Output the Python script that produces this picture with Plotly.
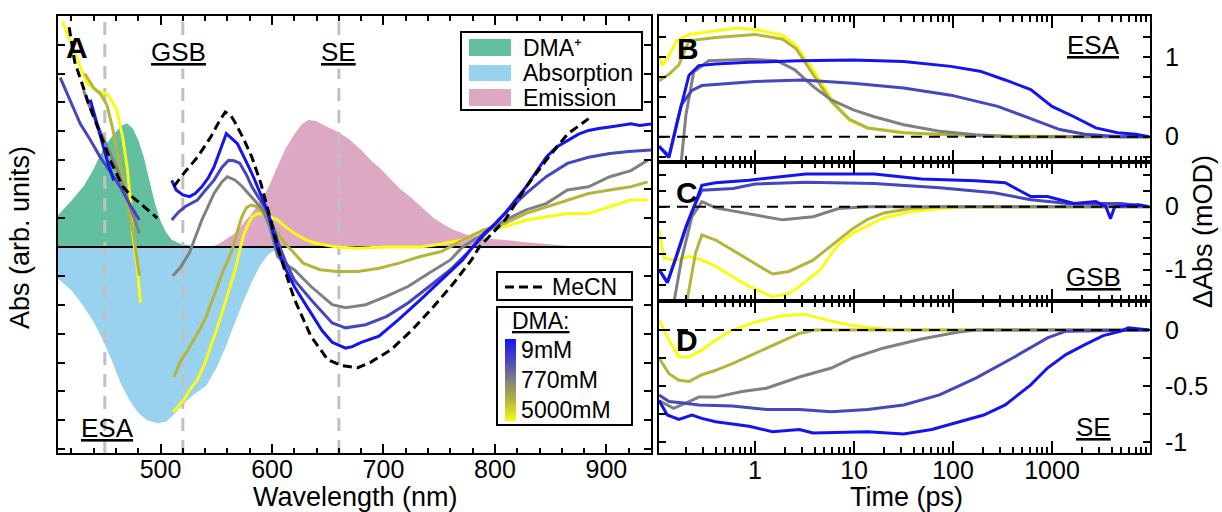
import plotly.graph_objects as go

W, H = 1222, 512

# ---------------- Panel A : steady-state + TA spectra ----------------
dma_cation_wl = [408, 420, 431, 440, 446, 452, 458, 465, 470, 475, 480, 485, 490, 495, 500, 505, 510, 518, 530]
dma_cation_abs = [1.1, 1.6, 2.1, 2.7, 3.2, 3.6, 3.9, 4.2, 4.28, 4.1, 3.7, 3.1, 2.3, 1.5, 0.9, 0.5, 0.25, 0.1, 0.02]

absorption_wl = [408, 420, 430, 440, 448, 456, 464, 472, 480, 488, 497, 505, 512, 520, 530, 541, 550, 558, 565,
                 573, 582, 590, 597, 604, 612]
absorption_abs = [-1.1, -1.5, -2.0, -2.6, -3.2, -3.9, -4.7, -5.3, -5.75, -6.0, -6.1, -6.05, -5.8, -5.45, -5.1, -4.8,
                  -4.2, -3.5, -2.8, -2.0, -1.2, -0.6, -0.25, -0.07, 0.0]

emission_wl = [545, 552, 560, 568, 575, 582, 590, 597, 605, 612, 620, 627, 633, 640, 647, 655, 660, 670, 680, 690,
               696, 705, 715, 725, 734, 745, 755, 763, 775, 790, 809, 825, 846, 860, 875]
emission_abs = [0, 0.1, 0.3, 0.5, 0.85, 1.17, 1.6, 2.07, 2.8, 3.4, 3.9, 4.25, 4.4, 4.35, 4.2, 4.05, 3.97, 3.7, 3.35,
                2.95, 2.76, 2.4, 2.0, 1.7, 1.38, 1.0, 0.75, 0.59, 0.42, 0.3, 0.24, 0.17, 0.1, 0.05, 0]

mecn_wl = [418, 423, 430, 435, 446, 456, 466, 474, 482, 490, 497, None,
           512, 522, 533, 545, 552, 558, 563, 567, 575, 582, 590, 596, 602, 608, 614, 620, 635, 650, 662, 677, 688,
           707, 726, 745, 763, 779, 786, 809, 828, 846, 865, 884]
mecn_abs = [7.6, 6.4, 5.6, 5.0, 3.9, 2.9, 2.1, 1.75, 1.5, 1.25, 1.0, None,
            2.1, 2.6, 3.1, 3.8, 4.3, 4.67, 4.55, 4.3, 3.7, 3.1, 2.2, 1.3, 0.4, -0.4, -1.1, -1.8, -3.1, -3.9, -4.1,
            -4.18, -4.0, -3.55, -2.86, -2.06, -1.25, -0.45, 0.0, 0.93, 2.08, 3.0, 3.9, 4.44]

spec_wl_9mM = [437, 445, 452, 458, None,
               510, 514, 520, 526, 531, 537, 543, 548, 554, 559, 564, 569, 575, 582, 590, 596, 601, 605, 612, 620,
               635, 645, 654, 666, 672, 680, 696, 714, 733, 752, 771, 780, 790, 800, 809, 818, 828, 837, 846, 855,
               865, 875, 884, 893, 903, 912, 922, 930, 940]
spec_9mM = [5.1, 4.0, 3.0, 2.3, None,
            2.3, 1.97, 1.8, 1.74, 1.85, 2.08, 2.4, 2.77, 3.4, 3.92, 3.75, 3.57, 3.1, 2.54, 1.8, 1.25, 0.47, -0.1,
            -0.75, -1.37, -2.29, -2.9, -3.3, -3.5, -3.45, -3.3, -3.09, -2.5, -1.83, -1.14, -0.45, 0.0, 0.45, 0.8,
            1.16, 1.6, 2.08, 2.6, 3.1, 3.45, 3.69, 3.9, 4.03, 4.1, 4.15, 4.2, 4.26, 4.2, 4.25]

spec_wl_low = [410, 420, 428, 437, 446, 455, 464, 472, 481, None,
               510, 516, 522, 533, 540, 548, 555, 561, 566, 571, 577, 582, 588, 594, 600, 606, 612, 620, 635, 654,
               666, 684, 703, 722, 741, 760, 775, 783, 790, 809, 828, 846, 865, 884, 903, 920, 940]
spec_low = [5.86, 5.0, 4.26, 3.7, 3.1, 2.6, 2.07, 1.5, 0.93, None,
            0.93, 1.2, 1.39, 1.62, 1.95, 2.31, 2.75, 3.0, 2.98, 2.9, 2.5, 2.08, 1.7, 1.35, 0.8, 0.1, -0.5, -1.14,
            -1.83, -2.63, -2.8, -2.69, -2.4, -1.94, -1.37, -0.79, -0.22, 0.1, 0.4, 1.16, 1.85, 2.43, 2.89, 3.1, 3.23,
            3.3, 3.35]

spec_wl_770mM = [431, 438, 446, 454, 462, 468, 475, 481, None,
                 511, 518, 526, 531, 537, 548, 555, 560, 567, 573, 579, 586, 592, 598, 605, 612, 620, 635, 654, 666,
                 684, 703, 722, 741, 760, 771, 790, 809, 828, 846, 865, 884, 903, 922, 937]
spec_770mM = [5.4, 4.7, 4.0, 3.3, 2.6, 1.9, 1.16, 0.47, None,
              -1.0, -0.7, -0.2, 0.3, 0.93, 1.85, 2.25, 2.43, 2.31, 2.1, 1.85, 1.55, 1.28, 0.7, -0.33, -0.6, -0.79,
              -1.37, -2.0, -2.1, -2.0, -1.7, -1.37, -0.9, -0.45, 0.0, 0.47, 0.93, 1.28, 1.5, 1.97, 2.08, 2.43, 2.64,
              3.0]

spec_wl_high = [432, 440, 446, 452, 457, 463, 470, 476, 481, None,
                512, 518, 524, 530, 536, 541, 547, 552, 557, 562, 565, 569, 573, 577, 581, 586, 590, 597, 605, 612,
                620, 628, 643, 658, 677, 696, 714, 733, 752, 771, 790, 809, 828, 846, 865, 884, 903, 922, 937]
spec_high = [6.0, 5.5, 5.3, 4.9, 4.1, 3.0, 1.6, 0.4, -1.0, None,
             -4.5, -3.95, -3.6, -3.2, -2.8, -2.4, -1.8, -1.25, -0.75, -0.33, 0.0, 0.55, 1.05, 1.35, 1.45, 1.4, 1.28,
             0.9, 0.47, 0.1, -0.22, -0.56, -0.79, -0.85, -0.85, -0.74, -0.56, -0.33, -0.16, 0.24, 0.59, 0.82, 1.16,
             1.39, 1.62, 1.85, 1.97, 2.08, 2.25]

spec_wl_5000mM = [412, 420, 428, 434, 443, 452, 457, 461, 466, 470, 473, 475, 479, 482, None,
                  511, 514, 521, 527, 533, 539, 544, 550, 556, 562, 567, 571, 575, 582, 587, 592, 598, 605, 612, 620,
                  630, 639, 658, 677, 700, 733, 752, 771, 790, 809, 828, 846, 865, 884, 903, 922, 937]
spec_5000mM = [7.8, 7.0, 6.2, 5.65, 5.4, 5.3, 5.0, 4.7, 3.8, 2.76, 1.6, 0.47, -0.69, -1.93, None,
               -5.7, -5.6, -5.28, -4.9, -4.6, -4.1, -3.55, -2.9, -2.17, -1.4, -0.79, -0.1, 0.47, 1.05, 1.15, 1.16,
               1.05, 0.93, 0.7, 0.47, 0.25, 0.13, 0.0, -0.05, 0.0, 0.0, 0.1, 0.24, 0.59, 0.7, 0.93, 1.05, 1.16, 1.16,
               1.39, 1.62, 1.62]

probe_wavelengths = [450, 520, 660]

# ---------------- Panel B : ESA kinetics ----------------
esa_t_9mM = [0.107, 0.135, 0.17, 0.215, 0.27, 0.4, 0.87, 2.8, 9.7, 31.7, 95, 187, 337, 610, 1000, 1670, 2770, 4600, 7000, 9500]
esa_9mM = [-0.12, -0.26, 0.27, 0.77, 0.89, 0.91, 0.93, 0.95, 0.96, 0.94, 0.88, 0.82, 0.71, 0.59, 0.38, 0.25, 0.11, 0.05, 0.03, 0.0]
esa_t_low = [0.107, 0.135, 0.18, 0.23, 0.29, 0.59, 1.0, 3, 9.7, 31.7, 95, 283, 610, 1200, 2150, 5000, 9500]
esa_low = [-0.12, -0.24, 0.40, 0.58, 0.64, 0.67, 0.69, 0.71, 0.67, 0.61, 0.52, 0.38, 0.23, 0.09, 0.03, 0.0, 0.0]
esa_t_770mM = [0.16, 0.18, 0.2, 0.24, 0.34, 0.87, 1.66, 2.5, 3.85, 5.9, 9.7, 16, 31.7, 73, 170, 400, 9500]
esa_770mM = [-0.5, -0.3, 0.27, 0.81, 0.95, 0.97, 0.95, 0.84, 0.63, 0.46, 0.34, 0.25, 0.15, 0.07, 0.025, 0.0, 0.0]
esa_t_high = [0.107, 0.135, 0.17, 0.215, 0.4, 1.0, 1.9, 2.6, 3.85, 5.9, 8.9, 13.7, 31.7, 73, 400, 9500]
esa_high = [0.70, 0.78, 0.9, 1.2, 1.24, 1.28, 1.22, 1.1, 0.78, 0.44, 0.22, 0.11, 0.05, 0.03, 0.0, 0.0]
esa_t_5000mM = [0.107, 0.115, 0.135, 0.16, 0.215, 0.4, 0.65, 1.0, 1.9, 2.6, 3.85, 5.9, 8.9, 13.7, 31.7, 100, 9500]
esa_5000mM = [1.01, 0.89, 1.01, 1.2, 1.28, 1.32, 1.36, 1.34, 1.27, 1.14, 0.84, 0.48, 0.21, 0.11, 0.05, 0.02, 0.0]

# ---------------- Panel C : GSB kinetics ----------------
gsb_t_9mM = [0.107, 0.13, 0.16, 0.2, 0.25, 0.29, 0.4, 0.87, 3.25, 16, 48, 170, 337, 610, 900, 1670, 2770, 3500, 3900, 4300, 7500, 9500]
gsb_9mM = [-1.0, -1.21, -0.79, -0.32, 0.06, 0.34, 0.38, 0.42, 0.52, 0.52, 0.44, 0.41, 0.38, 0.16, 0.16, 0.05, 0.08, 0.0, -0.19, 0.0, 0.03, 0.0]
gsb_t_low = [0.107, 0.13, 0.16, 0.2, 0.25, 0.29, 0.6, 1.0, 3.25, 16, 73, 260, 610, 1450, 5000, 9500]
gsb_low = [-1.0, -1.2, -0.8, -0.34, 0.05, 0.26, 0.29, 0.36, 0.39, 0.37, 0.30, 0.22, 0.11, 0.05, 0.05, 0.0]
gsb_t_770mM = [0.15, 0.18, 0.23, 0.29, 0.4, 0.87, 1.9, 3.85, 7, 13.7, 9500]
gsb_770mM = [-1.56, -0.85, -0.16, 0.08, -0.02, -0.11, -0.21, -0.16, -0.03, 0.0, 0.0]
gsb_t_high = [0.19, 0.25, 0.29, 0.4, 0.59, 0.87, 1.5, 2.2, 2.8, 3.85, 5.9, 9.7, 13.7, 20, 37, 73, 9500]
gsb_high = [-1.8, -0.74, -0.45, -0.53, -0.69, -0.85, -1.07, -1.03, -0.95, -0.85, -0.62, -0.35, -0.2, -0.1, -0.03, 0.0, 0.0]
gsb_t_5000mM = [0.107, 0.12, 0.16, 0.215, 0.29, 0.4, 0.59, 0.87, 1.5, 2.2, 2.8, 4.6, 5.9, 7, 9.7, 13.7, 20, 37, 73, 150, 9500]
gsb_5000mM = [-0.37, -0.82, -0.85, -0.79, -0.85, -0.95, -1.11, -1.27, -1.43, -1.38, -1.27, -1.0, -0.75, -0.6, -0.42, -0.3, -0.18, -0.08, -0.03, 0.0, 0.0]

# ---------------- Panel D : SE kinetics ----------------
se_t_9mM = [0.107, 0.13, 0.17, 0.23, 0.29, 0.4, 0.87, 1.5, 2.8, 3.85, 13.7, 31.7, 61, 108, 204, 337, 610, 900, 1380, 2150, 3300, 5000, 5900, 9500]
se_9mM = [-0.63, -0.76, -0.80, -0.76, -0.79, -0.82, -0.86, -0.91, -0.89, -0.92, -0.91, -0.93, -0.89, -0.83, -0.76, -0.67, -0.49, -0.34, -0.22, -0.13, -0.05, -0.01, 0.02, 0.0]
se_t_low = [0.107, 0.135, 0.18, 0.27, 0.59, 1.3, 2.8, 5.9, 13.7, 31.7, 73, 170, 400, 900, 1380, 9500]
se_low = [-0.58, -0.64, -0.65, -0.67, -0.68, -0.71, -0.71, -0.73, -0.71, -0.67, -0.58, -0.43, -0.25, -0.07, -0.01, 0.0]
se_t_770mM = [0.107, 0.15, 0.215, 0.27, 0.4, 0.74, 1.3, 2.8, 5.9, 9.7, 20, 48, 110, 170, 9500]
se_770mM = [-0.63, -0.70, -0.64, -0.60, -0.60, -0.55, -0.52, -0.42, -0.34, -0.25, -0.16, -0.08, -0.02, 0.0, 0.0]
se_t_high = [0.107, 0.135, 0.17, 0.215, 0.29, 0.4, 0.59, 1.0, 1.9, 2.8, 4, 9500]
se_high = [-0.25, -0.39, -0.45, -0.46, -0.40, -0.36, -0.30, -0.21, -0.10, -0.03, 0.0, 0.0]
se_t_5000mM = [0.107, 0.135, 0.17, 0.215, 0.29, 0.4, 0.59, 1.0, 1.9, 3.2, 5.9, 9.7, 20, 40, 9500]
se_5000mM = [0.09, -0.09, -0.24, -0.24, -0.18, -0.09, 0.0, 0.07, 0.13, 0.14, 0.08, 0.04, 0.01, 0.0, 0.0]

dma_labels = ["9mM", "770mM", "5000mM"]
series_colors = ["#1414F0", "#4646BE", "#808080", "#B5B53C", "#FAFA14"]  # 9mM ... 5000mM
fill_colors = {"DMA+": "#62BFA0", "Absorption": "#98D2EE", "Emission": "#DCA8C4"}

FONT = "Arial, Liberation Sans, sans-serif"


def px(x):
    return x / W


def py(y):
    return 1 - y / H


fig = go.Figure()

# ---- fills ----
fig.add_trace(go.Scatter(x=dma_cation_wl, y=dma_cation_abs, fill="tozeroy", mode="none",
                         fillcolor=fill_colors["DMA+"], xaxis="x", yaxis="y", hoverinfo="skip"))
fig.add_trace(go.Scatter(x=absorption_wl, y=absorption_abs, fill="tozeroy", mode="none",
                         fillcolor=fill_colors["Absorption"], xaxis="x", yaxis="y", hoverinfo="skip"))
fig.add_trace(go.Scatter(x=emission_wl, y=emission_abs, fill="tozeroy", mode="none",
                         fillcolor=fill_colors["Emission"], xaxis="x", yaxis="y", hoverinfo="skip"))

A_RANGE_Y = [-7.13, 7.99]
A_RANGE_X = [408, 940]
for wl in probe_wavelengths:
    fig.add_trace(go.Scatter(x=[wl, wl], y=A_RANGE_Y, mode="lines",
                             line=dict(color="#C0C0C0", width=3, dash="13px,9px"),
                             xaxis="x", yaxis="y", hoverinfo="skip"))
fig.add_trace(go.Scatter(x=A_RANGE_X, y=[0, 0], mode="lines", line=dict(color="black", width=2),
                         xaxis="x", yaxis="y", hoverinfo="skip"))

spectra = [(spec_wl_5000mM, spec_5000mM, 4), (spec_wl_high, spec_high, 3), (spec_wl_770mM, spec_770mM, 2),
           (spec_wl_low, spec_low, 1), (spec_wl_9mM, spec_9mM, 0)]
for xs, ys, ci in spectra:
    fig.add_trace(go.Scatter(x=xs, y=ys, mode="lines", line=dict(color=series_colors[ci], width=3),
                             connectgaps=False, xaxis="x", yaxis="y", hoverinfo="skip"))
fig.add_trace(go.Scatter(x=mecn_wl, y=mecn_abs, mode="lines", line=dict(color="black", width=3, dash="9px,5px"),
                         connectgaps=False, xaxis="x", yaxis="y", hoverinfo="skip"))

# ---- kinetics ----
panels = [
    ("x2", "y2", [(esa_t_5000mM, esa_5000mM, 4), (esa_t_high, esa_high, 3), (esa_t_770mM, esa_770mM, 2),
                  (esa_t_low, esa_low, 1), (esa_t_9mM, esa_9mM, 0)]),
    ("x3", "y3", [(gsb_t_5000mM, gsb_5000mM, 4), (gsb_t_high, gsb_high, 3), (gsb_t_770mM, gsb_770mM, 2),
                  (gsb_t_low, gsb_low, 1), (gsb_t_9mM, gsb_9mM, 0)]),
    ("x4", "y4", [(se_t_5000mM, se_5000mM, 4), (se_t_high, se_high, 3), (se_t_770mM, se_770mM, 2),
                  (se_t_low, se_low, 1), (se_t_9mM, se_9mM, 0)]),
]
for xa, ya, series in panels:
    for ts, vs, ci in series:
        fig.add_trace(go.Scatter(x=ts, y=vs, mode="lines", line=dict(color=series_colors[ci], width=3),
                                 xaxis=xa, yaxis=ya, hoverinfo="skip"))

# ---- colour bar for DMA concentration ----
dma_colorscale = [[0, series_colors[4]], [0.25, series_colors[3]], [0.5, series_colors[2]],
                  [0.75, series_colors[1]], [1, series_colors[0]]]
dma_colorbar = dict(x=px(505), xanchor="left", y=py(380), yanchor="middle",
                    lenmode="pixels", len=82, thicknessmode="pixels", thickness=11,
                    outlinewidth=0, ticks="", xpad=0, ypad=0,
                    tickvals=[0.866, 0.5, 0.134], ticktext=dma_labels,
                    tickfont=dict(family=FONT, size=23, color="black"))
fig.add_trace(go.Scatter(x=[0], y=[0], mode="markers", xaxis="x", yaxis="y", hoverinfo="skip",
                         marker=dict(size=1, color=[0.5], colorscale=dma_colorscale, cmin=0, cmax=1,
                                     showscale=True, colorbar=dma_colorbar)))

# ---- axes ----
axis_common = dict(showline=True, linewidth=2, linecolor="black", mirror="allticks", ticks="inside",
                   tickcolor="black", tickwidth=1.5, showgrid=False, zeroline=False, automargin=False,
                   tickfont=dict(family=FONT, size=25, color="black"))

xA = [px(58), px(651)]
xR = [px(659), px(1150)]
log_major = [1, 10, 100, 1000]
log_minor = [m * d for d in [0.1, 1, 10, 100, 1000] for m in range(2, 10)]

layout = dict(
    width=W, height=H, margin=dict(l=0, r=0, t=0, b=0), showlegend=False,
    plot_bgcolor="white", paper_bgcolor="white",
    font=dict(family=FONT, color="black"),
    xaxis=dict(axis_common, domain=xA, anchor="y", range=A_RANGE_X, tickvals=[500, 600, 700, 800, 900],
               ticklen=9, minor=dict(dtick=20, tick0=400, ticklen=5, ticks="inside", tickcolor="black",
                                     tickwidth=1.5), ticklabelstandoff=-7),
    yaxis=dict(axis_common, domain=[py(453), py(16)], anchor="x", range=A_RANGE_Y,
               tickvals=list(range(-7, 8)), showticklabels=False, ticklen=7),
)
y_domains = {"2": [py(162), py(16)], "3": [py(301), py(162)], "4": [py(453), py(301)]}
y_ranges = {"2": [-0.316, 1.51], "3": [-1.50, 0.71], "4": [-1.10, 0.26]}
y_ticks = {"2": ([-0.25, 0, 0.25, 0.5, 0.75, 1, 1.25], ["", "0", "", "", "", "1", ""]),
           "3": ([0.5, 0.25, 0, -0.25, -0.5, -0.75, -1, -1.25], ["", "", "0", "", "", "", "-1", ""]),
           "4": ([0, -0.25, -0.5, -0.75, -1], ["0", "", "-0.5", "", "-1"])}
for k in ["2", "3", "4"]:
    layout["xaxis" + k] = dict(axis_common, domain=xR, anchor="y" + k, type="log", range=[-0.9706, 3.99],
                               tickvals=log_major, ticktext=["1", "10", "100", "1000"], ticklen=12,
                               showticklabels=(k == "4"), ticklabelstandoff=-6,
                               minor=dict(tickvals=log_minor, ticklen=6, ticks="inside", tickcolor="black",
                                          tickwidth=1.5))
    tv, tt = y_ticks[k]
    layout["yaxis" + k] = dict(axis_common, domain=y_domains[k], anchor="x" + k, range=y_ranges[k],
                               side="right", tickvals=tv, ticktext=tt, ticklen=7, ticklabelstandoff=8)
fig.update_layout(**layout)

# ---- shapes: zero lines of kinetics, legend boxes ----
shapes = []
for k in ["2", "3", "4"]:
    shapes.append(dict(type="line", xref="x" + k + " domain", yref="y" + k, x0=0, x1=1, y0=0, y1=0,
                       line=dict(color="black", width=2, dash="11px,7px"), layer="above"))
# legend 1
shapes.append(dict(type="rect", xref="paper", yref="paper", x0=px(461), x1=px(642), y0=py(110), y1=py(32),
                   line=dict(color="black", width=2), fillcolor="white", layer="above"))
for (y0, y1), key in zip([(39, 56), (65, 81), (89, 106)], ["DMA+", "Absorption", "Emission"]):
    shapes.append(dict(type="rect", xref="paper", yref="paper", x0=px(469), x1=px(511), y0=py(y1), y1=py(y0),
                       line=dict(width=0), fillcolor=fill_colors[key], layer="above"))
# MeCN legend
shapes.append(dict(type="rect", xref="paper", yref="paper", x0=px(497), x1=px(632), y0=py(300), y1=py(272),
                   line=dict(color="black", width=2), fillcolor="white", layer="above"))
shapes.append(dict(type="line", xref="paper", yref="paper", x0=px(505), x1=px(547), y0=py(287), y1=py(287),
                   line=dict(color="black", width=3, dash="9px,5px"), layer="above"))
# DMA colour legend box
shapes.append(dict(type="rect", xref="paper", yref="paper", x0=px(497), x1=px(632), y0=py(425), y1=py(307),
                   line=dict(color="black", width=2), layer="above"))
fig.update_layout(shapes=shapes)


def ann(text, x, y, size, xanchor="center", bold=False, angle=0, bg=None):
    a = dict(text=("<b>%s</b>" % text) if bold else text, x=px(x), y=py(y), xref="paper", yref="paper",
             showarrow=False, xanchor=xanchor, yanchor="middle", textangle=angle,
             font=dict(family=FONT, size=size, color="black"))
    if bg:
        a["bgcolor"] = bg
    return a


annotations = [
    ann("A", 77, 47, 30, bold=True),
    ann("B", 688, 48, 30, bold=True),
    ann("C", 687, 192, 30, bold=True),
    ann("D", 687, 340, 30, bold=True),
    ann("<u>GSB</u>", 178, 52, 26, bg="white"),
    ann("<u>SE</u>", 338, 52, 26, bg="white"),
    ann("<u>ESA</u>", 107, 428, 26),
    ann("<u>ESA</u>", 1093, 45, 26),
    ann("<u>GSB</u>", 1093, 277, 26),
    ann("<u>SE</u>", 1093, 427, 26),
    ann("DMA⁺", 521, 48, 23, xanchor="left"),
    ann("Absorption", 521, 73, 23, xanchor="left"),
    ann("Emission", 521, 98, 23, xanchor="left"),
    ann("MeCN", 550, 287, 23, xanchor="left"),
    ann("<u>DMA:</u>", 510, 321, 23, xanchor="left"),
    ann("Wavelength (nm)", 355, 497, 27),
    ann("Time (ps)", 906, 497, 27),
    ann("Abs (arb. units)", 20, 238, 27, angle=-90),
    ann("ΔAbs (mOD)", 1203, 232, 27, angle=-90),
]
fig.update_layout(annotations=annotations)

fig.write_html("out.html")
